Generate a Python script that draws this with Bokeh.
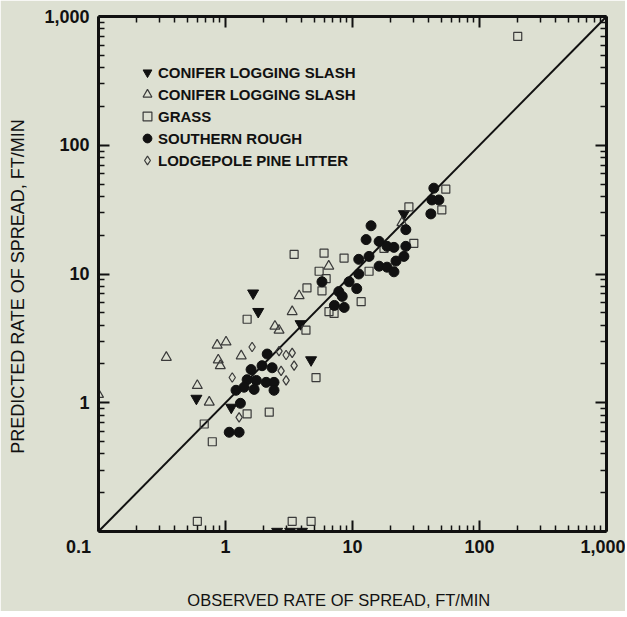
from bokeh.plotting import figure
from bokeh.models import Range1d, LogAxis, FixedTicker, Legend, LegendItem, CustomJSTickFormatter
from bokeh.embed import file_html
from bokeh.resources import INLINE

# ---------------- data ----------------
slash_filled_x = [1.65, 1.81, 3.9, 25.4, 4.72, 0.59, 1.11, 2.55, 3.23, 4.0]
slash_filled_y = [7.1, 5.1, 4.1, 29.3, 2.15, 1.08, 0.92, 0.1, 0.1, 0.1]

slash_open_x = [0.1, 0.342, 0.86, 1.01, 0.877, 0.91, 0.6, 0.745, 1.33, 2.45, 2.64, 3.8, 6.5, 24.5, 3.35]
slash_open_y = [1.16, 2.25, 2.8, 2.96, 2.15, 1.94, 1.36, 1.01, 2.31, 3.93, 3.66, 6.78, 11.5, 25.0, 5.1]

grass_x = [200, 3.47, 5.97, 8.58, 5.46, 6.2, 4.38, 5.75, 1.48, 4.3, 6.53, 7.16, 54.3, 50.5,
           27.8, 30.4, 17.7, 13.5, 11.7, 5.16, 1.48, 2.21, 0.68, 0.787, 0.6, 3.35, 4.72]
grass_y = [700, 14.2, 14.5, 13.3, 10.5, 9.2, 7.8, 7.4, 4.45, 3.66, 5.1, 4.94, 45.6, 31.5,
           33.2, 17.3, 15.8, 10.5, 6.1, 1.57, 0.82, 0.845, 0.684, 0.498, 0.12, 0.12, 0.12]

rough_x = [43.7, 42.2, 47.9, 41.4, 26.3, 14.0, 12.8, 16.2, 18.7, 21.2, 26.3, 13.5, 25.4, 22.0,
           16.2, 18.7, 21.2, 11.2, 9.4, 10.8, 7.8, 8.3, 7.2, 8.6, 5.75, 11.2,
           2.13, 1.59, 1.94, 2.33, 1.48, 1.75, 2.09, 2.41, 1.40, 1.68, 1.21, 2.41, 1.31, 1.07, 1.28]
rough_y = [46.4, 37.6, 37.6, 29.3, 22.1, 23.7, 18.5, 17.9, 16.4, 16.1, 16.4, 13.7, 13.7, 12.6,
           11.5, 11.3, 10.4, 10.0, 8.7, 7.7, 7.3, 6.7, 5.7, 5.5, 8.7, 13.0,
           2.39, 1.81, 1.94, 1.87, 1.51, 1.49, 1.44, 1.44, 1.32, 1.27, 1.25, 1.25, 0.99, 0.59, 0.59]

pine_x = [1.62, 2.64, 3.0, 3.35, 3.47, 3.0, 2.74, 1.13, 1.28]
pine_y = [2.71, 2.52, 2.35, 2.44, 1.94, 1.49, 1.77, 1.57, 0.77]

one_to_one_x = [0.1, 1000]
one_to_one_y = [0.1, 1000]

tick_values = [0.1, 1, 10, 100, 1000]
NB = "\u00a0"
x_tick_labels = ["0.1" + NB * 8, "1", "10", "100", "1,000"]
y_tick_labels = [NB, "1", "10", "100", "1,000"]
blank_labels = [NB, NB, NB, NB, NB]

legend_labels = ["CONIFER LOGGING SLASH", "CONIFER LOGGING SLASH", "GRASS",
                 "SOUTHERN ROUGH", "LODGEPOLE PINE LITTER"]

x_title = "OBSERVED RATE OF SPREAD, FT/MIN"
y_title = "PREDICTED RATE OF SPREAD, FT/MIN"

# ---------------- styling ----------------
BG = "#dde0d2"
INK = "#111111"
FONT = "Liberation Sans"

FRAME_W, FRAME_H = 508, 515
minor = [m * 10.0 ** e for e in range(-1, 3) for m in range(2, 10)]

p = figure(
    x_axis_type="log", y_axis_type="log",
    x_range=Range1d(0.1, 1000), y_range=Range1d(0.1, 1000),
    frame_width=FRAME_W, frame_height=FRAME_H,
    min_border_left=98, min_border_right=19, min_border_top=16, min_border_bottom=75,
    output_backend="svg", toolbar_location=None,
    background_fill_color=BG, border_fill_color=BG,
    outline_line_color=None,
)
p.xgrid.visible = False
p.ygrid.visible = False


def fmt(labels):
    return CustomJSTickFormatter(
        args=dict(vals=tick_values, labs=labels),
        code="""
        for (let i = 0; i < vals.length; i++) {
            if (Math.abs(Math.log10(vals[i]) - Math.log10(tick)) < 1e-6) return labs[i];
        }
        return "\\u00a0";
        """,
    )


def style_axis(ax):
    ax.ticker = FixedTicker(ticks=tick_values, minor_ticks=minor)
    ax.axis_line_width = 3
    ax.axis_line_color = INK
    ax.major_tick_in = 11
    ax.major_tick_out = 0
    ax.minor_tick_in = 6
    ax.minor_tick_out = 0
    ax.major_tick_line_width = 2
    ax.minor_tick_line_width = 1.5
    ax.major_tick_line_color = INK
    ax.minor_tick_line_color = INK
    ax.major_label_text_font = FONT
    ax.major_label_text_font_style = "bold"
    ax.major_label_text_font_size = "18px"
    ax.major_label_text_color = INK


xa = p.xaxis[0]
style_axis(xa)
xa.formatter = fmt(x_tick_labels)
xa.major_label_standoff = 5
xa.axis_label = x_title + NB * 6
xa.axis_label_text_font = FONT
xa.axis_label_text_font_style = "normal"
xa.axis_label_text_font_size = "16.5px"
xa.axis_label_text_color = INK
xa.axis_label_standoff = 31

ya = p.yaxis[0]
style_axis(ya)
ya.formatter = fmt(y_tick_labels)
ya.major_label_standoff = 9
ya.axis_label = y_title + NB * 5
ya.axis_label_text_font = FONT
ya.axis_label_text_font_style = "normal"
ya.axis_label_text_font_size = "18px"
ya.axis_label_text_color = INK
ya.axis_label_standoff = 13

for side in ("above", "right"):
    ax = LogAxis()
    style_axis(ax)
    ax.formatter = fmt(blank_labels)
    ax.major_label_text_font_size = "2px"
    ax.major_label_standoff = 0
    p.add_layout(ax, side)

# 1:1 line
p.line(one_to_one_x, one_to_one_y, line_color=INK, line_width=2)

open_line = "#3a3a3a"
r1 = p.scatter(slash_filled_x, slash_filled_y, marker="inverted_triangle", size=11,
               fill_color=INK, line_color=INK)
r2 = p.scatter(slash_open_x, slash_open_y, marker="triangle", size=10,
               fill_color=None, line_color=open_line, line_width=1.2)
r3 = p.scatter(grass_x, grass_y, marker="square", size=8,
               fill_color=None, line_color=open_line, line_width=1.2)
r4 = p.scatter(rough_x, rough_y, marker="circle", size=10,
               fill_color=INK, line_color=INK)
r5 = p.scatter(pine_x, pine_y, marker="diamond", size=9.5,
               fill_color=None, line_color=open_line, line_width=1.2)

ROW = 22
N_ITEMS = len(legend_labels)
LEG_TOP = 45          # legend top, px below frame top
legend = Legend(
    items=[LegendItem(label=lab, renderers=[r]) for lab, r in zip(legend_labels, [r1, r2, r3, r4, r5])],
    location=(38, FRAME_H - LEG_TOP - ROW * N_ITEMS),
    margin=0, padding=0,
    glyph_width=ROW, glyph_height=ROW, label_height=ROW, spacing=0,
    label_standoff=-3,
    label_text_font=FONT, label_text_font_style="bold", label_text_font_size="15px",
    label_text_color=INK,
    background_fill_alpha=0, border_line_color=None,
)
p.add_layout(legend)

open("out.html", "w").write(file_html(p, INLINE))
